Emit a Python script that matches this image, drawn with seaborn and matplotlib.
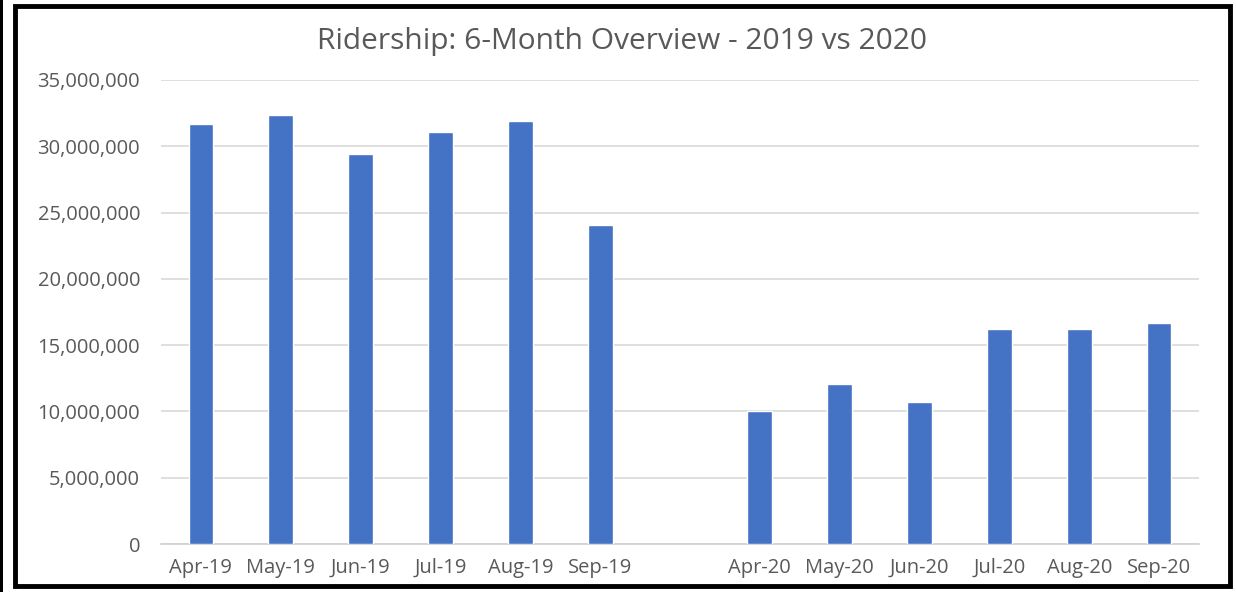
import pandas as pd
import seaborn as sns
import matplotlib.pyplot as plt
import numpy as np
from matplotlib.patches import Rectangle

months = ["Apr-19", "May-19", "Jun-19", "Jul-19", "Aug-19", "Sep-19",
          "Apr-20", "May-20", "Jun-20", "Jul-20", "Aug-20", "Sep-20"]
riders = [31700000, 32350000, 29400000, 31100000, 31900000, 24100000,
          10050000, 12100000, 10700000, 16200000, 16200000, 16650000]
# blank slot between the two years, as in the source sheet
order = months[:6] + [" "] + months[6:]
yticks = [0, 5000000, 10000000, 15000000, 20000000, 25000000, 30000000, 35000000]

sns.set_theme(style="white")
plt.rcParams['font.family'] = ['Open Sans', 'DejaVu Sans']

df = pd.DataFrame({"month": months, "riders": riders})

fig = plt.figure(figsize=(12.36, 5.92), dpi=100)
ax = fig.add_axes([161/1236, 1 - 544/592, (1199-161)/1236, (544-80)/592])
sns.barplot(data=df, x="month", y="riders", order=order, color="#4472c4",
            saturation=1, width=0.31, ax=ax, zorder=3)

ax.set_ylim(0, 35000000)
ax.set_yticks(yticks)
ax.set_yticklabels([f"{v:,}" for v in yticks])
ax.set_xlim(-0.5, len(order) - 0.5)
ax.grid(axis="y", color="#d9d9d9", lw=1.2, zorder=0)
ax.set_xlabel("")
ax.set_ylabel("")
for s in ["top", "right", "left"]:
    ax.spines[s].set_visible(False)
ax.spines["bottom"].set_color("#d0d0d0")
ax.spines["bottom"].set_linewidth(1.2)
ax.set_xticks(np.arange(-0.5, len(order), 1), minor=True)
ax.tick_params(axis="x", which="major", length=0, pad=10, labelsize=14.5, labelcolor="#595959")
ax.tick_params(axis="x", which="minor", length=6, color="#d0d0d0", width=1.2, direction="out")
ax.tick_params(axis="y", length=0, pad=15, labelsize=14.5, labelcolor="#595959")

fig.text(622/1236, 1 - 42/592, "Ridership: 6-Month Overview - 2019 vs 2020",
         ha="center", va="center", fontsize=21.5, color="#595959")

# outer frames
fig.patches.append(Rectangle((15/1236, 6/592), (1230-15)/1236, (586-6)/592,
                             transform=fig.transFigure, fill=False, ec="black", lw=3.5))
fig.patches.append(Rectangle((0, 0), 3/1236, 1, transform=fig.transFigure,
                             fc="black", ec="none"))

plt.savefig("out.png", dpi=100)
